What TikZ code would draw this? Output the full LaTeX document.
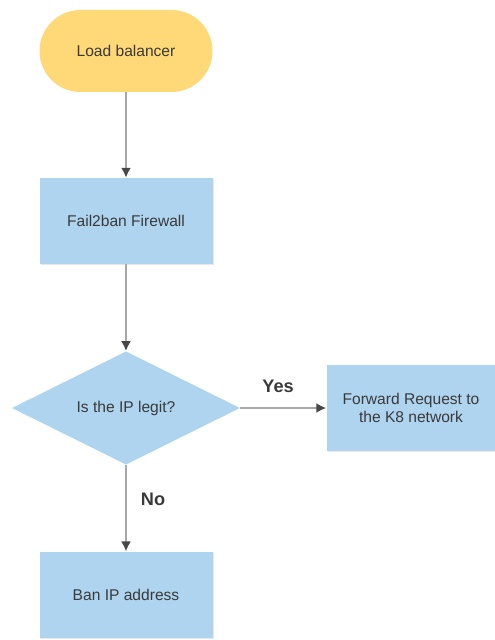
\documentclass[tikz,border=0pt]{standalone}
\usepackage{fontspec}
\setmainfont{Liberation Sans}
\usetikzlibrary{shapes.geometric,arrows.meta,shadows}
\definecolor{lbyellow}{HTML}{FFD978}
\definecolor{stepblue}{HTML}{AED4EF}
\definecolor{linegray}{HTML}{A8A8A8}
\definecolor{textgray}{HTML}{3A3A3A}
\begin{document}
\begin{tikzpicture}[
	font=\fontsize{13.3}{16}\selectfont, text=textgray,
	flowbox/.style={rectangle, fill=stepblue, minimum width=5.19cm, minimum height=2.58cm, align=center,
		drop shadow={opacity=0.18, shadow xshift=0.04cm, shadow yshift=-0.04cm}},
	flowline/.style={draw=linegray, line width=1.8pt, -{Latex[length=3mm,width=3mm,color=black!72]}},
	answer/.style={font=\fontsize{15.5}{18}\selectfont\bfseries}
	] %Início do fluxograma
	\useasboundingbox (0,0) rectangle (14.85,-19.2); %Margens
		%Blocos
	\node[rectangle, rounded corners=1.23cm, fill=lbyellow, minimum width=5.19cm, minimum height=2.46cm] (lb) at (3.78,-1.53) {Load balancer}; %Load balancer
	\node[flowbox] (fw) at (3.78,-6.63) {Fail2ban Firewall}; %Firewall
	\node[diamond, fill=stepblue, minimum width=6.84cm, minimum height=3.39cm, inner sep=0pt] (legit) at (3.78,-12.24) {Is the IP legit?}; %Decisão
	\node[flowbox, minimum width=5.07cm] (fwd) at (12.33,-12.24) {Forward Request to\\the K8 network}; %Encaminhar
	\node[flowbox] (ban) at (3.78,-17.84) {Ban IP address}; %Banir
		%Conectores
	\draw[flowline] (lb) -- (fw);
	\draw[flowline] (fw) -- (legit);
	\draw[flowline] (legit) -- (fwd) node[pos=0.44, above=0.3cm, answer]{Yes}; %Sim
	\draw[flowline] (legit) -- (ban) node[pos=0.4, right=0.3cm, answer]{No}; %Não
\end{tikzpicture}
\end{document}
